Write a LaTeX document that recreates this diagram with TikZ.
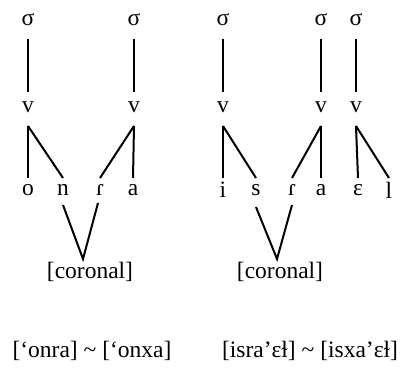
\documentclass[tikz,border=0pt]{standalone}
\usepackage{fontspec}
\setmainfont{Liberation Serif}
\usetikzlibrary{calc}
\begin{document}
\begin{tikzpicture}[x=1pt,y=-1pt,
  every node/.style={inner sep=0pt,font=\fontsize{23.5}{27}\selectfont},
  lnk/.style={line width=2pt}]
\useasboundingbox (0,0) rectangle (400,369);
% syllables
\foreach \n/\x in {s1/28,s2/134,s3/223,s4/321,s5/356}{\node (\n) at (\x,20) {σ};}
\foreach \n/\x in {v1/28,v2/134,v3/223,v4/321,v5/356}{\node (\n) at (\x,107) {v};}
% segments
\node (o) at (28,190) {o};
\node (n) at (63,190) {n};
\node (r1) at (100,190) {ɾ};
\node (a1) at (133,190) {a};
\node (i) at (223,190) {i};
\node (s) at (256,190) {s};
\node (r2) at (292,190) {ɾ};
\node (a2) at (321,190) {a};
\node (e) at (358,190) {ɛ};
\node (l) at (389,190) {l};
\node (c1) at (90,272) {[coronal]};
\node (c2) at (280,272) {[coronal]};
\node (t1) at (92,351) {[‘onra] \textasciitilde\ [‘onxa]};
\node (t2) at (310,351) {[isra’ɛɫ] \textasciitilde\ [isxa’ɛɫ]};
% sigma - v
\foreach \a/\b in {s1/v1,s2/v2,s3/v3,s4/v4,s5/v5}
  {\draw[lnk] ($(\a)+(0,19)$) -- ($(\b)+(0,-15)$);}
% v - segments
\foreach \a/\b in {v1/o,v1/n,v2/r1,v2/a1,v3/i,v3/s,v4/r2,v4/a2,v5/e,v5/l}
  {\draw[lnk] ($(\a)+(0,19)$) -- ($(\b)+(0,-12)$);}
% coronal
\draw[lnk] ($(n)+(0,15)$) -- ($(c1)+(-7,-13)$) -- ($(r1)+(-2,13)$);
\draw[lnk] ($(s)+(0,17)$) -- ($(c2)+(-3,-13)$) -- ($(r2)+(0,15)$);
\end{tikzpicture}
\end{document}
